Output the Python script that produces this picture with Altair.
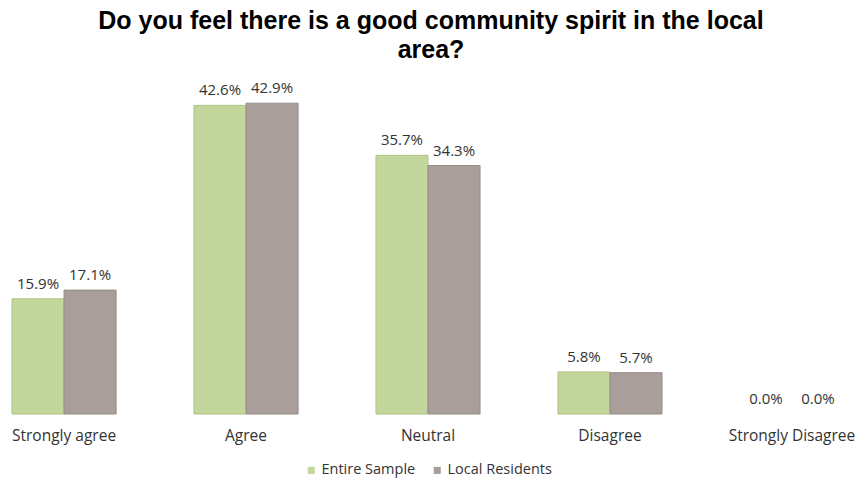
import altair as alt
import pandas as pd

categories = ["Strongly agree", "Agree", "Neutral", "Disagree", "Strongly Disagree"]
series = ["Entire Sample", "Local Residents"]
entire_sample = [15.9, 42.6, 35.7, 5.8, 0.0]
local_residents = [17.1, 42.9, 34.3, 5.7, 0.0]

rows = []
for i, c in enumerate(categories):
    rows.append({"category": c, "series": series[0], "value": entire_sample[i]})
    rows.append({"category": c, "series": series[1], "value": local_residents[i]})
df = pd.DataFrame(rows)

FONT = "Open Sans"
colors = ["#C3D69B", "#A99E9A"]
strokes = ["#AFC384", "#978B87"]

x = alt.X("category:N", sort=categories, title=None,
          scale=alt.Scale(paddingInner=0.428, paddingOuter=0),
          axis=alt.Axis(domain=False, ticks=False, labelAngle=0, labelPadding=14,
                        labelFontSize=15.5, labelColor="#333333", labelFont=FONT,
                        labelOverlap=False, labelBound=False))
xo = alt.XOffset("series:N", sort=series)
y = alt.Y("value:Q", scale=alt.Scale(domain=[0, 45]), axis=None)

base = alt.Chart(df)

bars = base.mark_bar(strokeWidth=1).encode(
    x=x, xOffset=xo, y=y,
    color=alt.Color("series:N", sort=series,
                    scale=alt.Scale(domain=series, range=colors),
                    legend=alt.Legend(title=None, orient="none", legendX=292, legendY=375,
                                      direction="horizontal", symbolType="square",
                                      symbolSize=50, symbolStrokeWidth=0,
                                      labelFontSize=14.5, labelFont=FONT, labelColor="#333333",
                                      columnPadding=14, labelOffset=3)),
    stroke=alt.Stroke("series:N", sort=series,
                      scale=alt.Scale(domain=series, range=strokes), legend=None),
    strokeOpacity=alt.condition("datum.value > 0", alt.value(1), alt.value(0)),
)

labels = base.transform_calculate(
    label="format(datum.value, '.1f') + '%'"
).mark_text(dy=-15, fontSize=15, font=FONT, color="#333333").encode(
    x=x, xOffset=xo, y=y, text="label:N"
)

chart = alt.layer(bars, labels).properties(
    width=832, height=326,
    background="#ffffff",
    title=alt.TitleParams(
        text=["Do you feel there is a good community spirit in the local", "area?"],
        font="Liberation Sans", fontSize=25, fontWeight="bold", color="#000000",
        anchor="middle", lineHeight=29, offset=18, dx=3),
    autosize=alt.AutoSizeParams(type="none"),
    padding={"left": 12, "top": 88, "right": 14, "bottom": 68},
).configure_view(stroke=None)

chart.save("out.html", embed_options={"renderer": "svg", "actions": False})
